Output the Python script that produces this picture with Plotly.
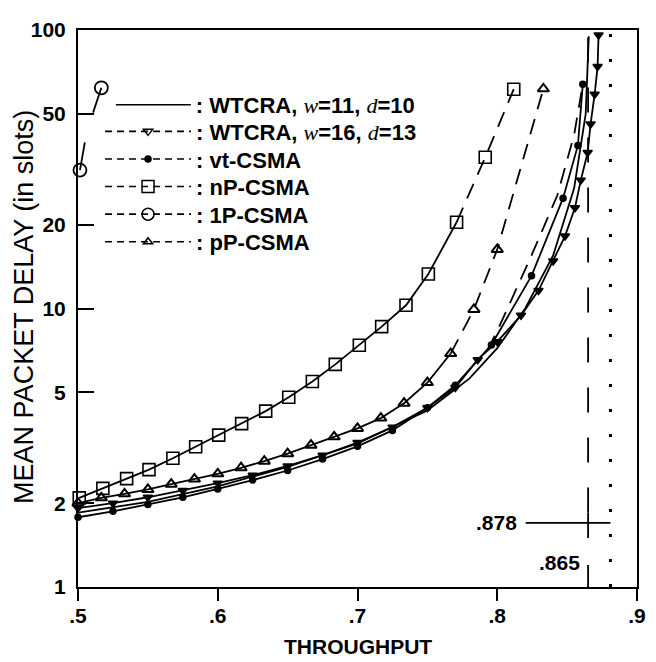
import plotly.graph_objects as go

# ---------------- data ----------------
# nP-CSMA (squares)
np_x = [0.5009, 0.5178, 0.5348, 0.5508, 0.5679, 0.5842, 0.6007, 0.6171, 0.6343, 0.6508,
        0.6677, 0.6841, 0.7013, 0.7173, 0.7347, 0.7507, 0.7709, 0.7914, 0.8118]
np_y = [2.09, 2.26, 2.45, 2.64, 2.90, 3.19, 3.51, 3.86, 4.28, 4.80,
        5.47, 6.30, 7.38, 8.61, 10.27, 13.3, 20.4, 34.9, 61.3]
np_solid_n = 17  # points drawn with solid line; rest dashed

# pP-CSMA (triangles up)
pp_x = [0.5, 0.5167, 0.5333, 0.55, 0.5667, 0.5833, 0.6, 0.6167, 0.6333, 0.65,
        0.6667, 0.6833, 0.7, 0.7167, 0.7333, 0.75, 0.7667, 0.7833, 0.80, 0.833]
pp_y = [2.00, 2.09, 2.16, 2.24, 2.34, 2.44, 2.55, 2.68, 2.83, 3.01,
        3.23, 3.46, 3.71, 4.04, 4.57, 5.42, 6.89, 9.92, 16.3, 61.5]
pp_solid_n = 17

# vt-CSMA (filled dots)
vt_x = [0.5, 0.525, 0.55, 0.575, 0.6, 0.625, 0.65, 0.675, 0.7, 0.725,
        0.75, 0.77, 0.7958, 0.8245, 0.8471, 0.8577, 0.8612]
vt_y = [1.78, 1.87, 1.98, 2.10, 2.25, 2.42, 2.62, 2.88, 3.20, 3.65,
        4.40, 5.30, 7.40, 13.1, 24.9, 38.5, 63.8]
# vt-CSMA dashed branch
vtd_x = [0.793, 0.80, 0.8245, 0.843, 0.855, 0.8612]
vtd_y = [7.1, 8.3, 15.5, 25.5, 42.0, 63.8]

# WTCRA, w=11, d=10 (solid, no markers)
w11_x = [0.5, 0.55, 0.6, 0.65, 0.7, 0.75, 0.78, 0.8, 0.82, 0.84, 0.855, 0.8633, 0.8655]
w11_y = [1.85, 2.02, 2.30, 2.70, 3.28, 4.30, 5.60, 7.20, 10.0, 15.5, 27.0, 50.0, 95.0]

# WTCRA, w=16, d=13 (triangles down)
w16_x = [0.5, 0.525, 0.55, 0.575, 0.6, 0.625, 0.65, 0.675, 0.7, 0.725,
         0.75, 0.77, 0.786, 0.80, 0.817, 0.8295, 0.84, 0.8485, 0.8556, 0.8598,
         0.8647, 0.8668, 0.8697, 0.8718, 0.8725]
w16_y = [1.92, 2.00, 2.10, 2.22, 2.36, 2.52, 2.72, 2.97, 3.30, 3.75,
         4.40, 5.20, 6.55, 7.60, 9.45, 11.6, 14.8, 18.2, 23.0, 28.9,
         36.3, 46.0, 58.8, 73.9, 96.0]

# 1P-CSMA (circles)
p1_x = [0.5014, 0.5049, None, 0.5108, 0.5167]
p1_y = [31.4, 39.5, None, 50.5, 62.0]
p1_mx = [0.5014, 0.5167]
p1_my = [31.4, 62.0]

# capacity markers
cap_a = 0.865
cap_b = 0.881
cap_label_a = ".865"
cap_label_b = ".878"
cap_line_y = 1.70

x_ticks = [0.5, 0.6, 0.7, 0.8, 0.9]
x_ticktext = [".5", ".6", ".7", ".8", ".9"]
y_ticks = [1, 2, 5, 10, 20, 50, 100]
y_ticktext = ["1", "2", "5", "10", "20", "50", "100"]

x_title = "THROUGHPUT"
y_title = "MEAN PACKET DELAY (in slots)"

SERIF_I = '<span style="font-family:Liberation Serif;font-weight:normal"><i>%s</i></span>'
legend_names = [
    ': WTCRA, ' + SERIF_I % 'w' + '=11, ' + SERIF_I % 'd' + '=10',
    ': WTCRA, ' + SERIF_I % 'w' + '=16, ' + SERIF_I % 'd' + '=13',
    ': vt-CSMA',
    ': nP-CSMA',
    ': 1P-CSMA',
    ': pP-CSMA',
]

FONT = "Liberation Sans, Arial, sans-serif"
K = "black"
LW = 1.8
LONGDASH = "16px,10px"
FS = 21
WEIGHT = "bold"

# page geometry: the browser body has an 8px margin, so the figure is drawn
# 8px right/down of the page origin; all page pixel positions are corrected by OFF
OFF = 8
FIG_W, FIG_H = 656 - OFF, 662 - OFF
PAGE_L, PAGE_R, PAGE_T, PAGE_B = 78, 646, 22, 587      # plot area on the page
PLOT_L, PLOT_T = PAGE_L - OFF, PAGE_T - OFF
PLOT_W, PLOT_H = PAGE_R - PAGE_L, PAGE_B - PAGE_T
PLOT_B = PLOT_T + PLOT_H

def px_x(page_x):
    return (page_x - OFF - PLOT_L) / PLOT_W

def px_y(page_y):
    return (PLOT_B - (page_y - OFF)) / PLOT_H

fig = go.Figure()

def add(x, y, mode="lines", dash="solid", symbol=None, size=8, mlw=1.5, width=LW):
    kw = dict(x=x, y=y, mode=mode, showlegend=False, cliponaxis=False,
              line=dict(color=K, width=width, dash=dash), hoverinfo="skip")
    if symbol:
        kw["marker"] = dict(symbol=symbol, size=size, color=K,
                            line=dict(color=K, width=mlw))
    fig.add_trace(go.Scatter(**kw))

# WTCRA w=11
add(w11_x, w11_y)
# WTCRA w=16
add(w16_x, w16_y, mode="lines+markers", symbol="triangle-down", size=8)
# vt-CSMA
add(vt_x, vt_y, mode="lines+markers", symbol="circle", size=6)
add(vtd_x, vtd_y, dash=LONGDASH)
# nP-CSMA
add(np_x[:np_solid_n], np_y[:np_solid_n], mode="lines")
add(np_x[np_solid_n - 1:], np_y[np_solid_n - 1:], dash=LONGDASH)
add(np_x, np_y, mode="markers", symbol="square-open", size=12, mlw=1.6)
# pP-CSMA
add(pp_x[:pp_solid_n], pp_y[:pp_solid_n], mode="lines")
add(pp_x[pp_solid_n - 1:], pp_y[pp_solid_n - 1:], dash=LONGDASH)
add(pp_x, pp_y, mode="markers", symbol="triangle-up-open", size=10, mlw=2)
# 1P-CSMA
add(p1_x, p1_y, mode="lines")
add(p1_mx, p1_my, mode="markers", symbol="circle-open", size=13, mlw=1.8)

# capacity lines
add([cap_a, cap_a], [1.85, 100], dash="25px,25px", width=1.8)
add([cap_a, cap_a], [1.0, 1.2], width=1.8)
add([cap_a, cap_a], [1.50, 1.85], width=1.8)
add([cap_b, cap_b], [1.0, 100], dash="3px,22px", width=3)
add([0.8203, cap_b], [cap_line_y, cap_line_y], width=1.8)

# legend entries: one legend per row so rows can be placed like the original
leg_dash = ["solid", "7px,5px", "7px,5px", "7px,5px", "7px,5px", "7px,5px"]
leg_symbol = [None, "triangle-down-open", "circle", "square-open", "circle-open", "triangle-up-open"]
leg_size = [8, 8, 6, 12, 12, 8]
leg_row_px = [98, 125, 153, 181, 209, 237]        # page y of each row
leg_itemwidth = [75, 86, 86, 86, 86, 86]
leg_start_px = [118, 107, 107, 107, 107, 107]     # page x where the sample line starts
LEG_PAD = 6.6
LEG_FS = 22

layout_legends = {}
for i, (name, dsh, sym, sz) in enumerate(zip(legend_names, leg_dash, leg_symbol, leg_size)):
    key = "legend" if i == 0 else "legend%d" % (i + 1)
    kw = dict(x=[None], y=[None], name=name, showlegend=True, legend=key,
              line=dict(color=K, width=1.6, dash=dsh))
    if sym:
        kw["mode"] = "lines+markers"
        kw["marker"] = dict(symbol=sym, size=sz, color=K, line=dict(color=K, width=1.5))
    else:
        kw["mode"] = "lines"
    fig.add_trace(go.Scatter(**kw))
    layout_legends[key] = dict(
        x=px_x(leg_start_px[i] - LEG_PAD),
        y=px_y(leg_row_px[i]),
        xanchor="left", yanchor="middle",
        bgcolor="rgba(0,0,0,0)", itemwidth=leg_itemwidth[i],
        font=dict(family=FONT, size=LEG_FS, color=K, weight=WEIGHT),
        itemclick=False, itemdoubleclick=False,
    )

fig.add_annotation(x=0.8155, y=0.2304, xref="x", yref="y", text=cap_label_b,
                   showarrow=False, xanchor="right", yanchor="middle",
                   font=dict(family=FONT, size=FS, color=K, weight=WEIGHT))
fig.add_annotation(x=0.8603, y=0.0886, xref="x", yref="y", text=cap_label_a,
                   showarrow=False, xanchor="right", yanchor="middle",
                   font=dict(family=FONT, size=FS, color=K, weight=WEIGHT))
# y-axis title
fig.add_annotation(x=px_x(23), y=px_y(303),
                   xref="paper", yref="paper", text=y_title, textangle=-90,
                   showarrow=False, xanchor="center", yanchor="middle",
                   font=dict(family=FONT, size=27, color=K, weight="normal"))
# x-axis title
fig.add_annotation(x=0.5, y=px_y(647),
                   xref="paper", yref="paper", text=x_title,
                   showarrow=False, xanchor="center", yanchor="middle",
                   font=dict(family=FONT, size=FS, color=K, weight=WEIGHT))

fig.update_layout(
    width=FIG_W, height=FIG_H,
    margin=dict(l=PLOT_L, r=FIG_W - PLOT_L - PLOT_W, t=PLOT_T, b=FIG_H - PLOT_B),
    paper_bgcolor="white", plot_bgcolor="white",
    font=dict(family=FONT, size=FS, color=K, weight=WEIGHT),
    **layout_legends,
)
fig.update_xaxes(
    range=[0.5, 0.9], tickvals=x_ticks, ticktext=x_ticktext,
    ticks="outside", ticklen=12, tickwidth=2, tickcolor=K,
    showline=True, linewidth=2, linecolor=K, mirror=True,
    showgrid=False, zeroline=False,
    tickfont=dict(family=FONT, size=FS, color=K, weight=WEIGHT),
    ticklabelstandoff=-3,
)
fig.update_yaxes(
    type="log", range=[0, 2], tickvals=y_ticks, ticktext=y_ticktext,
    ticks="inside", ticklen=16, tickwidth=2, tickcolor=K,
    showline=True, linewidth=2, linecolor=K, mirror=True,
    showgrid=False, zeroline=False,
    tickfont=dict(family=FONT, size=FS, color=K, weight=WEIGHT),
    ticklabelstandoff=6,
)

fig.write_html("out.html")
